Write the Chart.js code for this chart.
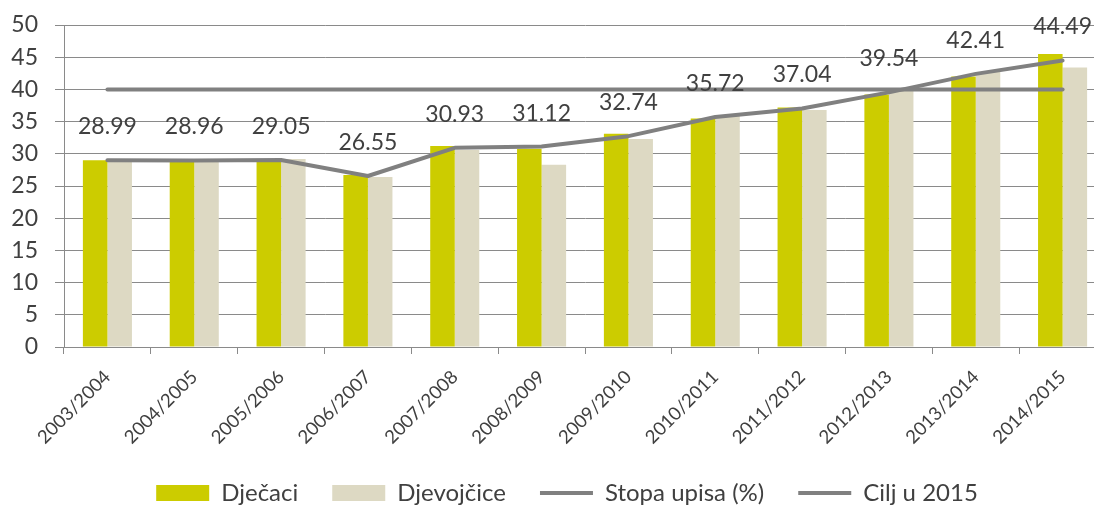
<!DOCTYPE html>
<html>
<head>
<meta charset="utf-8">
<script src="https://cdn.jsdelivr.net/npm/chart.js@4/dist/chart.umd.min.js"></script>
<style>
  html, body { margin: 0; padding: 0; background: #fff; overflow: hidden; }
  /* the plot runs past the right edge of the window, as in the original */
  #wrap { width: 1125px; height: 515px; }
</style>
</head>
<body>
<div id="wrap"><canvas id="chart"></canvas></div>
<script>
var years = ['2003/2004', '2004/2005', '2005/2006', '2006/2007', '2007/2008', '2008/2009',
             '2009/2010', '2010/2011', '2011/2012', '2012/2013', '2013/2014', '2014/2015'];
var djecaci    = [29.0, 29.1, 28.9, 26.7, 31.2, 30.8, 33.1, 35.5, 37.2, 39.2, 42.0, 45.5];
var djevojcice = [28.9, 28.8, 29.2, 26.4, 30.6, 28.3, 32.3, 35.9, 36.8, 40.0, 42.7, 43.4];
var stopa      = [28.99, 28.96, 29.05, 26.55, 30.93, 31.12, 32.74, 35.72, 37.04, 39.54, 42.41, 44.49];
var cilj       = [40, 40, 40, 40, 40, 40, 40, 40, 40, 40, 40, 40];
var yTicks     = [0, 5, 10, 15, 20, 25, 30, 35, 40, 45, 50];

var GRID = '#8a8a8a';
var TEXT = '#404040';
var LINE = '#808080';

Chart.defaults.font.family = 'Lato';
Chart.defaults.color = TEXT;

// values above the "Stopa upisa" line
var stopaLabels = {
  id: 'stopaLabels',
  afterDatasetsDraw: function(chart) {
    var meta = chart.getDatasetMeta(2);
    var ctx = chart.ctx;
    ctx.save();
    ctx.font = '23px Lato';
    ctx.fillStyle = TEXT;
    ctx.textAlign = 'center';
    ctx.textBaseline = 'alphabetic';
    meta.data.forEach(function(pt, i) {
      ctx.fillText(stopa[i].toFixed(2), pt.x, pt.y - 26);
    });
    ctx.restore();
  }
};

new Chart(document.getElementById('chart').getContext('2d'), {
  type: 'bar',
  data: {
    labels: years,
    datasets: [
      { label: 'Dječaci', data: djecaci, backgroundColor: '#cccc00', borderWidth: 0,
        pointStyle: 'rect', order: 1 },
      { label: 'Djevojčice', data: djevojcice, backgroundColor: '#ddd9c3', borderWidth: 0,
        pointStyle: 'rect', order: 1 },
      { type: 'line', label: 'Stopa upisa (%)', data: stopa, borderColor: LINE, backgroundColor: LINE,
        borderWidth: 4, pointRadius: 0, tension: 0, borderCapStyle: 'round', borderJoinStyle: 'round',
        pointStyle: 'line', order: 0 },
      { type: 'line', label: 'Cilj u 2015', data: cilj, borderColor: LINE, backgroundColor: LINE,
        borderWidth: 4, pointRadius: 0, tension: 0, borderCapStyle: 'round',
        pointStyle: 'line', order: 0 }
    ]
  },
  options: {
    responsive: true,
    maintainAspectRatio: false,
    animation: false,
    layout: { padding: { left: 11, right: 2, top: 25, bottom: 0 } },
    datasets: { bar: { barPercentage: 1, categoryPercentage: 0.565 } },
    scales: {
      x: {
        afterFit: function(scale) { scale.height = 100; },
        grid: { drawOnChartArea: false, drawTicks: true, tickLength: 7, color: GRID, offset: true },
        border: { color: GRID },
        ticks: { minRotation: 45, maxRotation: 45, padding: 12, font: { size: 18.5 }, color: TEXT }
      },
      y: {
        min: 0, max: 50,
        afterBuildTicks: function(scale) {
          scale.ticks = yTicks.map(function(v) { return { value: v }; });
        },
        afterFit: function(scale) { scale.width = 53; scale.paddingTop = 0; },
        grid: { color: GRID, tickLength: 9 },
        border: { color: GRID },
        ticks: { padding: 17, font: { size: 23 }, color: TEXT }
      },
      // empty strip past the window edge so the legend centres like the original
      yRight: {
        position: 'right',
        grid: { display: false },
        border: { display: false },
        ticks: { display: false },
        afterFit: function(scale) { scale.width = 17; }
      }
    },
    plugins: {
      legend: {
        position: 'bottom',
        labels: {
          usePointStyle: true,
          pointStyleWidth: 53,
          boxHeight: 16,
          padding: 34,
          font: { size: 24 },
          color: TEXT,
          sort: function(a, b) { return a.datasetIndex - b.datasetIndex; }
        }
      },
      tooltip: { enabled: false }
    }
  },
  plugins: [stopaLabels]
});
</script>
</body>
</html>
